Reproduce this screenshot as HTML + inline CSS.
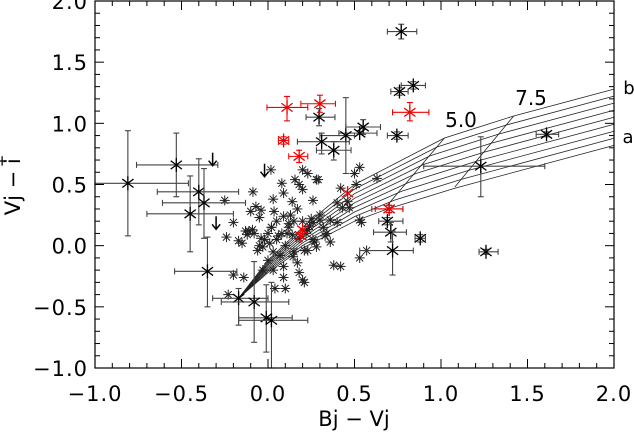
<!DOCTYPE html>
<html><head><meta charset="utf-8"><style>
html,body{margin:0;padding:0;background:#fff;}
svg{display:block;font-family:"DejaVu Sans","Liberation Sans",sans-serif;}
</style></head><body>
<svg id="chart" width="634" height="432" viewBox="0 0 634 432">
<g id="grid"></g>
<g id="marks"></g>
<g id="axes"></g>
<text x="461" y="127" font-size="20" text-anchor="middle">5.0</text>
<text x="531" y="105" font-size="20" text-anchor="middle">7.5</text>
<text x="629" y="94" font-size="18" text-anchor="middle">b</text>
<text x="628" y="143" font-size="18" text-anchor="middle">a</text>
<text x="354" y="426" font-size="21" text-anchor="middle">Bj − Vj</text>
<g transform="translate(20,185) rotate(-90)">
<text x="0" y="0" font-size="21" text-anchor="middle">Vj − i<tspan font-size="15" dx="-9" dy="-13">+</tspan></text>
</g>
</svg>
<script>
// ---- data ----
const xTicks = [-1.0,-0.5,0.0,0.5,1.0,1.5,2.0];
const xTickLabels = ["−1.0","−0.5","0.0","0.5","1.0","1.5","2.0"];
const yTicks = [-1.0,-0.5,0.0,0.5,1.0,1.5,2.0];
const yTickLabels = ["−1.0","−0.5","0.0","0.5","1.0","1.5","2.0"];
// small asterisks [x,y]
const smallX = [0.017,0.08,0.156,0.20,0.23,0.18,0.20,0.28,0.03,0.09,0.14,0.26,-0.087,-0.25,-0.20,-0.24,-0.17,-0.12,-0.09,-0.11,-0.10,-0.07,-0.04,-0.05,0.035,0.02,0.09,0.13,0.11,0.14,0.18,-0.03,0.01,-0.06,0.0,0.03,0.09,0.09,0.04,0.10,-0.03,-0.20,-0.14,-0.23,0.18,0.20,0.21,0.17,0.145,0.23,0.26,0.29,0.50,0.53,0.63,0.42,0.51,0.40,0.46,0.43,0.47,0.53,0.54,0.36,0.40,0.30,0.26,0.23,0.34,0.36,0.28,0.21,0.57,0.53,0.38,0.42,0.05,0.08,0.12,0.15,0.05,0.0,-0.02,0.10,0.15,0.20,0.25,0.30,0.32,0.22,-0.05,0.03,0.07,0.17,-0.08,-0.15,-0.13,0.06,0.12,-0.04,0.24,0.33,0.27,0.02];
const smallY = [0.62,0.51,0.54,0.62,0.59,0.50,0.46,0.54,0.38,0.43,0.36,0.37,0.44,0.37,0.19,0.07,0.04,0.09,0.13,0.12,0.28,0.32,0.29,0.23,0.28,0.15,0.24,0.25,0.10,0.09,0.06,-0.01,0.02,-0.04,-0.12,-0.20,-0.17,-0.26,-0.35,-0.35,-0.20,-0.24,-0.26,-0.40,-0.22,-0.28,-0.30,-0.14,-0.09,-0.04,0.05,0.54,0.59,0.64,0.55,0.47,0.50,0.35,0.36,0.31,0.31,0.21,0.19,0.21,0.19,0.21,0.19,0.13,0.10,0.03,-0.01,-0.04,-0.04,-0.10,-0.16,-0.17,0.05,0.10,0.15,0.20,0.20,0.10,0.05,0.00,-0.05,0.20,0.22,0.25,0.15,0.10,0.00,-0.05,-0.08,0.30,0.10,0.02,0.12,0.08,0.18,0.06,0.16,0.08,0.03,0.15];
// error-bar points: x,y, xlo,xhi, ylo,yhi
const ebX  = [-0.81,-0.53,-0.40,-0.37,-0.45,-0.35,-0.17,-0.08,-0.01,0.02,0.77,0.84,0.76,0.295,0.55,0.53,0.45,0.31,0.38,0.745,1.61,1.23,0.69,0.71,0.72,0.88,1.26,0.70];
const ebY  = [0.51,0.66,0.44,0.35,0.26,-0.21,-0.43,-0.46,-0.59,-0.61,1.75,1.31,1.26,1.05,0.97,0.92,0.90,0.85,0.78,0.90,0.91,0.65,0.20,0.11,-0.04,0.06,-0.05,0.30];
const ebXlo= [-1.0,-0.76,-0.64,-0.61,-0.70,-0.54,-0.32,-0.27,-0.17,-0.17,0.69,0.77,0.71,0.22,0.45,0.41,0.30,0.17,0.28,0.69,1.55,0.90,0.64,0.61,0.53,0.85,1.22,0.60];
const ebXhi= [-0.46,-0.29,-0.17,-0.13,-0.20,-0.18,0.0,0.12,0.14,0.23,0.86,0.91,0.81,0.387,0.65,0.63,0.50,0.47,0.48,0.81,1.68,1.60,0.78,0.80,0.84,0.91,1.33,0.78];
const ebYlo= [0.08,0.40,0.17,0.06,-0.05,-0.50,-0.65,-0.79,-0.87,-1.0,1.69,1.28,1.23,0.98,0.91,0.92,0.59,0.75,0.70,0.87,0.89,0.40,0.17,0.03,-0.24,0.03,-0.07,0.27];
const ebYhi= [0.94,0.92,0.71,0.63,0.57,0.07,-0.35,-0.13,-0.32,-0.30,1.81,1.34,1.29,1.12,1.03,0.92,1.21,0.92,0.85,0.93,0.93,0.89,0.23,0.19,0.12,0.09,-0.03,0.33];
// red points
const redX  = [0.11,0.09,0.18,0.30,0.82,0.70,0.20,0.19,0.46];
const redY  = [1.13,0.86,0.73,1.16,1.09,0.30,0.13,0.08,0.43];
const redXlo= [-0.006,0.06,0.12,0.19,0.72,0.62,0.20,0.19,0.46];
const redXhi= [0.23,0.12,0.23,0.39,0.93,0.78,0.20,0.19,0.46];
const redYlo= [1.02,0.83,0.68,1.09,1.02,0.27,0.13,0.08,0.43];
const redYhi= [1.22,0.89,0.78,1.23,1.17,0.33,0.13,0.08,0.43];
// upper-limit arrows
const arrX = [-0.32,-0.02,-0.30];
const arrY = [0.76,0.67,0.24];
// model grid boundary curves
const topCurveX = [-0.17,0.0,0.2,0.5,1.02,1.42,2.0];
const topCurveY = [-0.43,-0.12,0.15,0.50,0.88,1.06,1.28];
const botCurveX = [-0.17,0.0,0.2,0.5,0.69,1.08,2.0];
const botCurveY = [-0.43,-0.22,-0.02,0.20,0.30,0.47,0.82];
const nCurves = 9;
const iso50 = [[1.02,0.88],[0.69,0.33]];
const iso75 = [[1.42,1.06],[1.08,0.48]];

// ---- axes functions ----
const L=95,R=614,T=1,B=368;
const sx=v=>L+(v+1)/3*(R-L);
const sy=v=>B-(v+1)/3*(B-T);
const NS="http://www.w3.org/2000/svg";
function mk(tag,attrs,parent){const e=document.createElementNS(NS,tag);for(const k in attrs)e.setAttribute(k,attrs[k]);parent.appendChild(e);return e;}
const axes=document.getElementById('axes'),marks=document.getElementById('marks'),grid=document.getElementById('grid');

for(let i=0;i<nCurves;i++){
  const t=i/(nCurves-1);
  const pts=[];
  for(let j=0;j<topCurveX.length;j++){
    const x=botCurveX[j]+(topCurveX[j]-botCurveX[j])*t;
    const y=botCurveY[j]+(topCurveY[j]-botCurveY[j])*t;
    pts.push(sx(x).toFixed(1)+","+sy(y).toFixed(1));
  }
  const p=mk('polyline',{points:pts.join(' '),fill:'none',stroke:'#222','stroke-width':0.8},grid);
  
  
}
[iso50,iso75].forEach(seg=>{
  const l=mk('line',{x1:sx(seg[0][0]),y1:sy(seg[0][1]),x2:sx(seg[1][0]),y2:sy(seg[1][1]),stroke:'#222','stroke-width':0.8},grid);
  
  
});

function smallStar(x,y,col,parent){
  const g=mk('g',{stroke:col,'stroke-width':1},parent);
  const cx=sx(x),cy=sy(y),r=5;
  mk('line',{x1:cx-r,y1:cy,x2:cx+r,y2:cy},g);
  mk('line',{x1:cx,y1:cy-r,x2:cx,y2:cy+r},g);
  mk('line',{x1:cx-r*0.7,y1:cy-r*0.7,x2:cx+r*0.7,y2:cy+r*0.7},g);
  mk('line',{x1:cx-r*0.7,y1:cy+r*0.7,x2:cx+r*0.7,y2:cy-r*0.7},g);
  return g;
}
function bigStar(x,y,col,parent){
  const g=mk('g',{stroke:col,'stroke-width':1.3},parent);
  const cx=sx(x),cy=sy(y),r=7;
  mk('line',{x1:cx,y1:cy-r,x2:cx,y2:cy+r},g);
  mk('line',{x1:cx-r*0.8,y1:cy-r*0.6,x2:cx+r*0.8,y2:cy+r*0.6},g);
  mk('line',{x1:cx-r*0.8,y1:cy+r*0.6,x2:cx+r*0.8,y2:cy-r*0.6},g);
  return g;
}
function errBar(x,y,xl,xh,yl,yh,col,parent){
  const g=mk('g',{stroke:col,'stroke-width':1.1},parent);
  const c=3;
  if(xh>xl){
    mk('line',{x1:sx(xl),y1:sy(y),x2:sx(xh),y2:sy(y)},g);
    mk('line',{x1:sx(xl),y1:sy(y)-c,x2:sx(xl),y2:sy(y)+c},g);
    mk('line',{x1:sx(xh),y1:sy(y)-c,x2:sx(xh),y2:sy(y)+c},g);
  }
  if(yh>yl){
    mk('line',{x1:sx(x),y1:sy(yl),x2:sx(x),y2:sy(yh)},g);
    mk('line',{x1:sx(x)-c,y1:sy(yl),x2:sx(x)+c,y2:sy(yl)},g);
    mk('line',{x1:sx(x)-c,y1:sy(yh),x2:sx(x)+c,y2:sy(yh)},g);
  }
  return g;
}
for(let i=0;i<smallX.length;i++){
  const g=smallStar(smallX[i],smallY[i],'#222',marks);
  
  
}
for(let i=0;i<ebX.length;i++){
  const g=errBar(ebX[i],ebY[i],ebXlo[i],ebXhi[i],ebYlo[i],ebYhi[i],'#444',marks);
  
  
  const s=bigStar(ebX[i],ebY[i],'#000',marks);
  
  
}
for(let i=0;i<redX.length;i++){
  const g=errBar(redX[i],redY[i],redXlo[i],redXhi[i],redYlo[i],redYhi[i],'#e00',marks);
  
  
  const s=bigStar(redX[i],redY[i],'#e00',marks);
  
  
}
for(let i=0;i<arrX.length;i++){
  const g=mk('g',{stroke:'#000','stroke-width':1.5,fill:'none'},marks);
  
  
  const cx=sx(arrX[i]),cy=sy(arrY[i]);
  mk('line',{x1:cx,y1:cy,x2:cx,y2:cy+13},g);
  mk('polyline',{points:`${cx-4},${cy+8} ${cx},${cy+13} ${cx+4},${cy+8}`},g);
}

mk('rect',{x:L,y:T,width:R-L,height:B-T,fill:'none',stroke:'#000','stroke-width':1.2},axes);
for(let v=-1;v<=2.0001;v+=0.1){
  const x=sx(v),maj=Math.abs(v*2-Math.round(v*2))<1e-6,len=maj?9:5;
  mk('line',{x1:x,y1:B,x2:x,y2:B-len,stroke:'#000'},axes);
  mk('line',{x1:x,y1:T,x2:x,y2:T+len,stroke:'#000'},axes);
  const y=sy(v);
  mk('line',{x1:L,y1:y,x2:L+len,y2:y,stroke:'#000'},axes);
  mk('line',{x1:R,y1:y,x2:R-len,y2:y,stroke:'#000'},axes);
}
xTicks.forEach((v,i)=>{
  const t=mk('text',{x:sx(v),y:401,'font-size':21,'text-anchor':'middle','letter-spacing':1},axes);
  t.textContent=xTickLabels[i];
  
  
});
yTicks.forEach((v,i)=>{
  const t=mk('text',{x:88,y:sy(v)+8,'font-size':21,'text-anchor':'end','letter-spacing':1},axes);
  t.textContent=yTickLabels[i];
  
  
});
</script>
</body></html>
